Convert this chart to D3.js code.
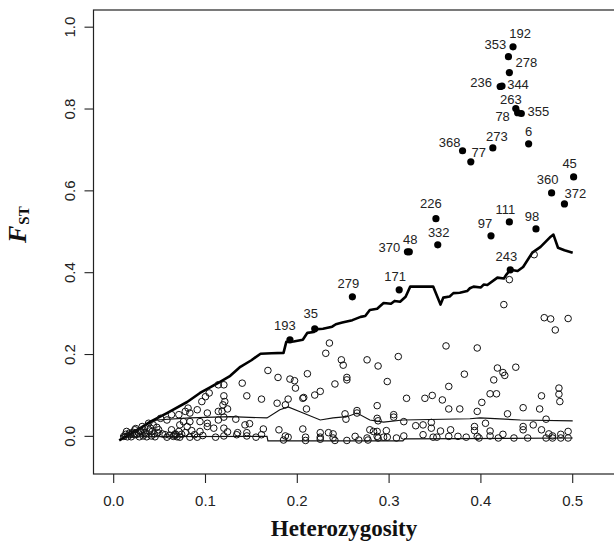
<!DOCTYPE html>
<html>
<head>
<meta charset="utf-8">
<script src="https://cdn.jsdelivr.net/npm/d3@7"></script>
<style>
  body { margin: 0; background: #fff; }
  svg { display: block; }
  .tick-label { font-family: "Liberation Sans", Arial, sans-serif; font-size: 15px; fill: #222; }
  .pt-label { font-family: "Liberation Sans", Arial, sans-serif; font-size: 13px; fill: #222; }
  .axis-title { font-family: "Liberation Serif", "Times New Roman", serif; font-weight: bold; fill: #111; }
</style>
</head>
<body>
<script>
// outlier loci (filled dots with their locus number)
var outlierIds = ["192","353","278","236","344","263","78","355","6","273","368","77","45","360","372","111","98","97","226","332","48","370","243","171","279","35","193"];
var outlierHet = [0.435,0.430,0.431,0.421,0.423,0.438,0.440,0.444,0.452,0.413,0.380,0.389,0.501,0.477,0.491,0.431,0.460,0.411,0.351,0.353,0.322,0.320,0.432,0.311,0.260,0.219,0.192];
var outlierFst = [0.952,0.928,0.889,0.855,0.856,0.801,0.791,0.789,0.715,0.705,0.698,0.671,0.634,0.595,0.568,0.524,0.507,0.490,0.532,0.468,0.451,0.451,0.407,0.358,0.341,0.263,0.236];

// neutral loci (open circles)
var neutralHet = [0.235,0.231,0.248,0.250,0.276,0.288,0.168,0.211,0.179,0.192,0.197,0.254,0.241,0.140,0.120,0.114,0.198,0.225,0.219,0.145,
  0.161,0.120,0.121,0.206,0.207,0.190,0.178,0.187,0.287,0.124,0.210,0.118,0.252,0.265,0.253,0.265,0.287,0.120,0.133,0.143,
  0.148,0.120,0.163,0.180,0.206,0.225,0.234,0.279,0.287,0.120,0.134,0.145,0.155,0.161,0.187,0.190,0.209,0.225,0.239,0.263,
  0.276,0.288,0.185,0.209,0.241,0.254,0.267,0.362,0.396,0.310,0.382,0.298,0.365,0.319,0.339,0.347,0.358,0.365,0.377,0.396,
  0.288,0.305,0.305,0.316,0.329,0.337,0.346,0.346,0.356,0.367,0.393,0.393,0.283,0.297,0.287,0.294,0.298,0.308,0.316,0.337,
  0.348,0.352,0.365,0.375,0.384,0.396,0.225,0.239,0.277,0.458,0.431,0.425,0.469,0.476,0.495,0.481,0.438,0.418,0.424,0.426,
  0.414,0.485,0.485,0.486,0.410,0.417,0.401,0.466,0.446,0.464,0.429,0.471,0.405,0.446,0.446,0.457,0.466,0.410,0.424,0.398,
  0.410,0.419,0.436,0.451,0.471,0.474,0.478,0.487,0.487,0.495,0.495,0.478,0.104,0.100,0.096,0.081,0.091,0.078,0.083,0.063,
  0.071,0.102,0.114,0.051,0.058,0.076,0.083,0.094,0.114,0.038,0.043,0.031,0.072,0.080,0.102,0.102,0.109,0.023,0.032,0.040,
  0.049,0.063,0.071,0.085,0.094,0.014,0.018,0.011,0.015,0.019,0.023,0.028,0.032,0.036,0.041,0.045,0.027,0.034,0.053,0.058,
  0.065,0.072,0.083,0.091,0.111,0.067,0.069,0.078,0.119,0.135,0.145,0.124,0.254,
  0.013,0.017,0.021,0.025,0.030,0.035,0.039,0.044,0.048,0.056,0.061,0.068,0.074,0.088,0.097,0.024,0.029,0.042,0.047,0.066];
var neutralFst = [0.228,0.203,0.187,0.174,0.187,0.172,0.161,0.153,0.144,0.140,0.136,0.144,0.128,0.130,0.126,0.126,0.118,0.110,0.101,0.099,
  0.091,0.099,0.085,0.093,0.095,0.091,0.081,0.077,0.075,0.067,0.067,0.061,0.055,0.063,0.042,0.057,0.044,0.047,0.042,0.028,
  0.031,0.020,0.018,0.016,0.018,0.009,0.009,0.016,0.012,0.001,0.004,0.001,-0.002,0.004,0.001,-0.002,-0.002,-0.002,-0.004,0.000,
  -0.004,-0.004,-0.009,-0.010,-0.010,-0.010,-0.009,0.221,0.216,0.195,0.152,0.134,0.122,0.093,0.093,0.100,0.089,0.067,0.067,0.061,
  0.038,0.053,0.047,0.036,0.026,0.028,0.034,0.020,0.013,0.016,0.024,0.014,0.012,0.014,0.000,-0.002,-0.002,-0.004,0.001,0.004,
  -0.002,-0.002,0.000,0.000,-0.002,0.000,-0.007,0.006,-0.009,0.444,0.383,0.322,0.290,0.287,0.288,0.260,0.169,0.167,0.156,0.149,
  0.138,0.118,0.103,0.085,0.104,0.104,0.083,0.099,0.070,0.067,0.055,0.042,0.032,0.024,0.016,0.028,0.016,0.013,0.005,-0.004,
  0.001,-0.004,-0.004,-0.004,-0.004,0.006,0.001,0.005,-0.004,0.012,-0.004,-0.004,0.106,0.097,0.085,0.069,0.065,0.061,0.057,0.053,
  0.053,0.057,0.061,0.044,0.040,0.036,0.036,0.036,0.040,0.032,0.028,0.024,0.028,0.024,0.032,0.024,0.020,0.016,0.016,0.020,
  0.016,0.016,0.012,0.014,0.012,0.012,0.004,0.000,-0.001,-0.001,0.004,-0.001,0.001,-0.001,0.001,-0.001,0.009,0.009,0.006,-0.002,
  0.000,-0.002,-0.002,-0.002,-0.002,0.006,-0.001,0.009,0.077,0.009,0.009,0.011,0.138,
  0.005,0.008,0.010,0.005,0.011,0.006,0.013,0.006,0.009,0.004,0.003,0.004,0.005,0.004,0.002,0.019,0.013,0.012,0.022,0.003];

// simulated quantile lines
var upperHet = [0.006,0.026,0.040,0.058,0.080,0.094,0.105,0.114,0.127,0.138,0.150,0.160,0.172,0.185,0.188,0.196,0.206,0.211,0.218,0.222,0.228,0.238,0.242,0.249,0.260,0.269,0.274,0.279,0.287,0.290,0.294,0.302,0.306,0.312,0.318,0.323,0.348,0.356,0.359,0.366,0.370,0.377,0.385,0.388,0.392,0.400,0.403,0.407,0.418,0.425,0.428,0.432,0.440,0.446,0.456,0.465,0.476,0.479,0.484,0.491,0.500];
var upperFst = [-0.010,0.016,0.036,0.057,0.084,0.106,0.120,0.131,0.148,0.170,0.186,0.202,0.203,0.204,0.231,0.232,0.236,0.253,0.255,0.262,0.263,0.268,0.274,0.278,0.284,0.292,0.294,0.309,0.312,0.318,0.326,0.324,0.331,0.329,0.341,0.366,0.366,0.322,0.339,0.342,0.350,0.351,0.355,0.362,0.366,0.364,0.371,0.370,0.388,0.386,0.396,0.407,0.404,0.414,0.449,0.463,0.488,0.493,0.461,0.455,0.449];
var medianHet = [0.007,0.029,0.047,0.083,0.127,0.167,0.181,0.190,0.203,0.225,0.239,0.254,0.265,0.279,0.294,0.315,0.388,0.399,0.443,0.500];
var medianFst = [0.001,0.021,0.040,0.045,0.048,0.045,0.065,0.072,0.060,0.040,0.045,0.048,0.057,0.040,0.035,0.040,0.043,0.045,0.040,0.038];
var lowerHet = [0.007,0.167,0.168,0.315,0.317,0.500];
var lowerFst = [-0.001,0.000,-0.011,-0.011,-0.006,-0.004];

var xTicks = [0, 0.1, 0.2, 0.3, 0.4, 0.5];
var yTicks = [0, 0.2, 0.4, 0.6, 0.8, 1.0];

var width = 614, height = 542;
var mLeft = 93.5, mTop = 10, plotW = 545.3, plotH = 464;

// R style 4% axis expansion of xlim c(0,0.55), ylim c(-0.05,1)
var xlim = [0, 0.55], ylim = [-0.05, 1];
var xp = (xlim[1] - xlim[0]) * 0.04, yp = (ylim[1] - ylim[0]) * 0.04;
var x = d3.scaleLinear().domain([xlim[0] - xp, xlim[1] + xp]).range([mLeft, mLeft + plotW]);
var y = d3.scaleLinear().domain([ylim[0] - yp, ylim[1] + yp]).range([mTop + plotH, mTop]);

var svg = d3.select("body").append("svg")
  .attr("width", width)
  .attr("height", height);

// box
svg.append("rect")
  .attr("x", mLeft).attr("y", mTop)
  .attr("width", plotW).attr("height", plotH)
  .attr("fill", "none").attr("stroke", "#222").attr("stroke-width", 1.2);

// x ticks
svg.selectAll(".xt").data(xTicks).enter().append("line")
  .attr("x1", function(d) { return x(d); }).attr("x2", function(d) { return x(d); })
  .attr("y1", mTop + plotH).attr("y2", mTop + plotH + 9)
  .attr("stroke", "#222").attr("stroke-width", 1.1);
svg.selectAll(".xl").data(xTicks).enter().append("text")
  .attr("class", "tick-label")
  .attr("x", function(d) { return x(d); })
  .attr("y", 506)
  .attr("text-anchor", "middle")
  .text(function(d) { return d3.format(".1f")(d); });

// y ticks
svg.selectAll(".yt").data(yTicks).enter().append("line")
  .attr("x1", mLeft - 9).attr("x2", mLeft)
  .attr("y1", function(d) { return y(d); }).attr("y2", function(d) { return y(d); })
  .attr("stroke", "#222").attr("stroke-width", 1.1);
svg.selectAll(".yl").data(yTicks).enter().append("text")
  .attr("class", "tick-label")
  .attr("transform", function(d) { return "translate(75," + y(d) + ") rotate(-90)"; })
  .attr("text-anchor", "middle")
  .text(function(d) { return d3.format(".1f")(d); });

// axis titles
svg.append("text")
  .attr("class", "axis-title")
  .attr("x", 344).attr("y", 536)
  .attr("text-anchor", "middle")
  .style("font-size", "23px")
  .text("Heterozygosity");

var yt = svg.append("text")
  .attr("class", "axis-title")
  .attr("transform", "translate(26,243) rotate(-90)");
yt.append("tspan").style("font-size", "26px").style("font-style", "italic").text("F");
yt.append("tspan").attr("dy", 3).attr("dx", 1).style("font-size", "15px").text("ST");

// quantile lines
var line = d3.line()
  .x(function(d) { return x(d[0]); })
  .y(function(d) { return y(d[1]); });

function pairs(a, b) { return a.map(function(v, i) { return [v, b[i]]; }); }

svg.append("path").datum(pairs(lowerHet, lowerFst))
  .attr("d", line).attr("fill", "none").attr("stroke", "#111").attr("stroke-width", 1.2);
svg.append("path").datum(pairs(medianHet, medianFst))
  .attr("d", line).attr("fill", "none").attr("stroke", "#111").attr("stroke-width", 1.2);
svg.append("path").datum(pairs(upperHet, upperFst))
  .attr("d", line).attr("fill", "none").attr("stroke", "#000").attr("stroke-width", 2.6)
  .attr("stroke-linejoin", "round");

// neutral loci
svg.selectAll(".neutral").data(pairs(neutralHet, neutralFst)).enter().append("circle")
  .attr("class", "neutral")
  .attr("cx", function(d) { return x(d[0]); })
  .attr("cy", function(d) { return y(d[1]); })
  .attr("r", 3.3)
  .attr("fill", "none").attr("stroke", "#111").attr("stroke-width", 1);

// outliers
var outliers = outlierIds.map(function(id, i) { return {id: id, h: outlierHet[i], f: outlierFst[i]}; });
svg.selectAll(".outlier").data(outliers).enter().append("circle")
  .attr("class", "outlier")
  .attr("cx", function(d) { return x(d.h); })
  .attr("cy", function(d) { return y(d.f); })
  .attr("r", 3.6)
  .attr("fill", "#000");

// label nudges (px) where the label isn't just above the dot
var nudge = {
  "192": [7, -13], "353": [-13, -12], "278": [17, -10], "236": [-19, -4], "344": [16, -2],
  "263": [-5, -9], "78": [-15, 4], "355": [17, -2], "6": [0, -12], "273": [4, -11],
  "368": [-13, -8], "77": [8, -9], "45": [-4, -14], "372": [11, -11], "97": [-6, -12],
  "226": [-5, -15], "332": [1, -12], "48": [1, -12], "370": [-18, -4], "35": [-4, -15], "193": [-5, -14]
};
svg.selectAll(".pt-label").data(outliers).enter().append("text")
  .attr("class", "pt-label")
  .attr("text-anchor", "middle")
  .attr("x", function(d) { var n = nudge[d.id] || [-4, -13]; return x(d.h) + n[0]; })
  .attr("y", function(d) { var n = nudge[d.id] || [-4, -13]; return y(d.f) + n[1] + 4.6; })
  .text(function(d) { return d.id; });
</script>
</body>
</html>
